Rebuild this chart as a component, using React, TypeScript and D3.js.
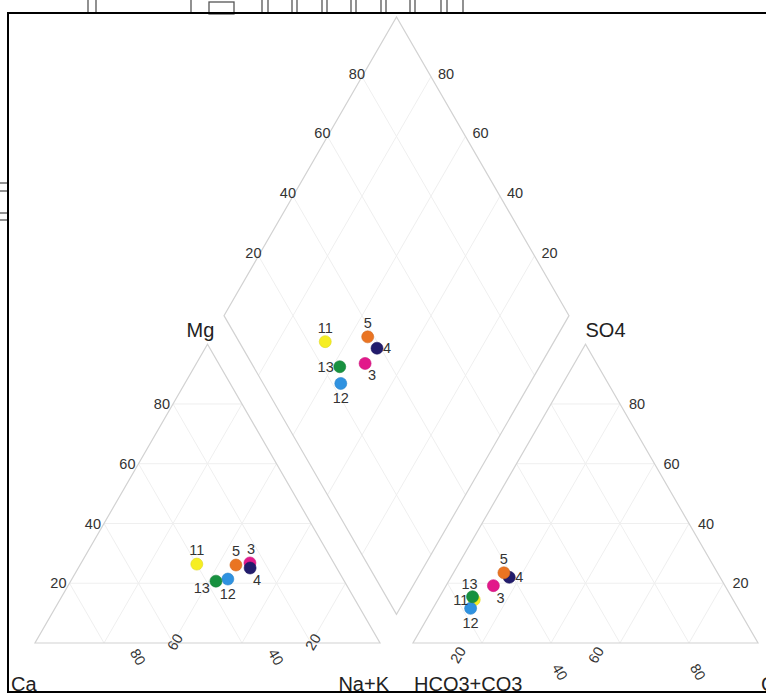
import React, { useEffect, useRef } from "react";
import * as d3 from "d3";

// sample ids and colours
const sampleIds = ["3", "4", "5", "11", "12", "13"];
const sampleColors = ["#e2198a", "#221c6c", "#ea7422", "#f6ee22", "#2f92e0", "#17913f"];

// cation percentages
const caValues = [24.3, 25.1, 28.7, 39.9, 33.4, 37.2];
const mgValues = [26.8, 25.1, 26.1, 26.4, 21.4, 20.7];
const naKValues = [48.9, 49.8, 45.2, 33.7, 45.2, 42.1];

// anion percentages
const so4Values = [19.2, 22.0, 23.5, 14.5, 11.6, 15.5];
const clValues = [13.7, 16.9, 14.6, 10.5, 10.9, 9.5];
const hco3Values = [67.1, 61.1, 61.9, 75.0, 77.5, 75.0];

const tickValues = [20, 40, 60, 80];

// label placement per sample (compass direction around the dot)
const cationLabelDir = ["ne", "se", "n", "n", "s", "sw"];
const anionLabelDir = ["se", "e", "n", "w", "s", "nw"];
const diamondLabelDir = ["se", "e", "n", "n", "s", "w"];

const App = () => {
    const svgRef = useRef<SVGSVGElement | null>(null);

    useEffect(() => {
        const width = 766, height = 695;
        const side = 345;
        const triH = side * Math.sqrt(3) / 2;
        const baseY = 643;
        const catX0 = 35;
        const gap = 33;
        const anX0 = catX0 + side + gap;
        const font = "'Liberation Sans', Arial, sans-serif";

        const svg = d3.select(svgRef.current)
            .attr("width", width)
            .attr("height", height);
        svg.selectAll("*").remove();

        const pct = d3.scaleLinear().domain([0, 100]).range([0, side]);
        const pctY = d3.scaleLinear().domain([0, 100]).range([0, triH]);

        // (right-corner %, apex %) -> px, for a triangle starting at x0
        const tri = (x0: number) => (r: number, a: number): [number, number] =>
            [x0 + pct(r) + pct(a) / 2, baseY - pctY(a)];
        const cat = tri(catX0);
        const an = tri(anX0);

        // diamond
        const B: [number, number] = [catX0 + side + gap / 2, baseY - gap * Math.sqrt(3) / 2];
        const dia = (u: number, v: number): [number, number] =>
            [B[0] - pct(u) / 2 + pct(v) / 2, B[1] - pctY(u) - pctY(v)];

        const line = d3.line();
        const outline = "#d2d2d2", gridC = "#efefef", textC = "#333";

        // stray scan artefacts around the frame
        const art = svg.append("g").attr("stroke", "#555").attr("stroke-width", 1.3).attr("fill", "none");
        [88, 96, 191, 262, 268, 292, 297, 322, 327, 351, 356, 381, 386, 410, 415, 441, 447, 463].forEach(x => {
            art.append("line").attr("x1", x).attr("x2", x).attr("y1", 0).attr("y2", 12);
        });
        art.append("rect").attr("x", 209).attr("y", 2).attr("width", 25).attr("height", 12);
        [183, 191, 213, 220].forEach(y => {
            art.append("line").attr("x1", 0).attr("x2", 8).attr("y1", y).attr("y2", y);
        });

        const drawTriangle = (f: (r: number, a: number) => [number, number]) => {
            const g = svg.append("g").attr("fill", "none");
            tickValues.forEach(t => {
                g.append("path").attr("d", line([f(0, t), f(100 - t, t)])).attr("stroke", gridC);
                g.append("path").attr("d", line([f(t, 0), f(t, 100 - t)])).attr("stroke", gridC);
                g.append("path").attr("d", line([f(100 - t, 0), f(0, 100 - t)])).attr("stroke", gridC);
            });
            g.append("path").attr("d", line([f(0, 0), f(100, 0), f(0, 100)]) + "Z")
                .attr("stroke", outline).attr("stroke-width", 1.2);
        };
        drawTriangle(cat);
        drawTriangle(an);

        const dg = svg.append("g").attr("fill", "none");
        tickValues.forEach(t => {
            dg.append("path").attr("d", line([dia(t, 0), dia(t, 100)])).attr("stroke", gridC);
            dg.append("path").attr("d", line([dia(0, t), dia(100, t)])).attr("stroke", gridC);
        });
        dg.append("path").attr("d", line([dia(0, 0), dia(100, 0), dia(100, 100), dia(0, 100)]) + "Z")
            .attr("stroke", outline).attr("stroke-width", 1.2);

        const txt = svg.append("g").attr("font-family", font).attr("fill", textC);
        const tick = (x: number, y: number, s: string, anchor: string, rot = 0) => {
            txt.append("text").attr("x", x).attr("y", y).attr("dy", "0.35em")
                .attr("text-anchor", anchor).attr("font-size", 14.5)
                .attr("transform", rot ? `rotate(${rot},${x},${y})` : null)
                .text(s);
        };

        tickValues.forEach((t, i) => {
            // Mg on left edge of cation triangle
            const [mx, my] = cat(0, t);
            tick(mx - 3, my, String(t), "end");
            // SO4 on right edge of anion triangle
            const [sx, sy] = an(100 - t, t);
            tick(sx + 9, sy, String(t), "start");
            // diamond edges
            const [lx, ly] = dia(100, t);
            tick(lx + 3, ly - 3, String(t), "end");
            const [rx, ry] = dia(t, 100);
            tick(rx + 7, ry - 3, String(t), "start");
            // Ca along cation base
            const [cx] = cat(100 - t, 0);
            const upper = t === 60 || t === 20;
            tick(cx + (upper ? 2 : 34), upper ? 642 : 657, String(t), "middle", upper ? -60 : 60);
            // Cl along anion base
            const [ax] = an(t, 0);
            const up2 = t === 20 || t === 60;
            tick(ax + (up2 ? -24 : 9), up2 ? 655 : 672, String(t), "middle", up2 ? -60 : 60);
        });

        const axisLabel = (x: number, y: number, s: string, anchor: string) => {
            txt.append("text").attr("x", x).attr("y", y).attr("text-anchor", anchor)
                .attr("font-size", 20).attr("fill", "#222").text(s);
        };
        axisLabel(cat(0, 100)[0] - 7, 337, "Mg", "middle");
        axisLabel(an(0, 100)[0] + 20, 337, "SO4", "middle");
        axisLabel(11, 691, "Ca", "start");
        axisLabel(389, 691, "Na+K", "end");
        axisLabel(414, 691, "HCO3+CO3", "start");
        axisLabel(761, 691, "Cl", "start");

        const dirs: Record<string, [number, number, string]> = {
            n: [0, -9, "middle"], s: [0, 20, "middle"], e: [6, 5, "start"], w: [-6, 5, "end"],
            ne: [-3, -9, "start"], se: [3, 17, "start"], sw: [-6, 12, "end"], nw: [-3, -8, "middle"],
        };

        const drawPoints = (pts: [number, number][], dirList: string[]) => {
            const g = svg.append("g");
            g.selectAll("circle").data(pts).enter().append("circle")
                .attr("cx", d => d[0]).attr("cy", d => d[1]).attr("r", 6)
                .attr("fill", (d, i) => sampleColors[i])
                .attr("stroke", (d, i) => d3.color(sampleColors[i])!.darker(0.3).toString())
                .attr("stroke-width", 0.6);
            g.selectAll("text").data(pts).enter().append("text")
                .attr("x", (d, i) => d[0] + dirs[dirList[i]][0])
                .attr("y", (d, i) => d[1] + dirs[dirList[i]][1])
                .attr("text-anchor", (d, i) => dirs[dirList[i]][2])
                .attr("font-family", font).attr("font-size", 14.5).attr("fill", textC)
                .text((d, i) => sampleIds[i]);
        };

        const catPts = sampleIds.map((_, i) => cat(naKValues[i], mgValues[i]));
        const anPts = sampleIds.map((_, i) => an(clValues[i], so4Values[i]));
        const diaPts = sampleIds.map((_, i) =>
            dia(100 - naKValues[i], so4Values[i] + clValues[i]));
        drawPoints(catPts, cationLabelDir);
        drawPoints(anPts, anionLabelDir);
        drawPoints(diaPts, diamondLabelDir);

        // outer frame
        svg.append("rect").attr("x", 8).attr("y", 13).attr("width", 770).attr("height", 679)
            .attr("fill", "none").attr("stroke", "#000").attr("stroke-width", 2);
    }, []);

    return <svg ref={svgRef} style={{ position: "absolute", left: 0, top: 0, background: "#fff" }}></svg>;
};

export default App;
